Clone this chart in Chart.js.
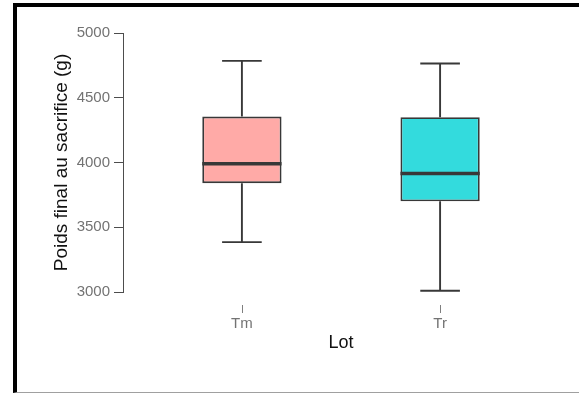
<!DOCTYPE html>
<html>
<head>
<meta charset="utf-8">
<script src="https://cdn.jsdelivr.net/npm/chart.js@4"></script>
<style>
  html, body { margin: 0; padding: 0; background: #fff; }
  #wrap { position: relative; width: 579px; height: 394px; overflow: hidden; }
  #frame {
    position: absolute; left: 13px; top: 3px; width: 600px; height: 385px;
    border-left: 4px solid #000; border-top: 4px solid #000; border-bottom: 1px solid #a0a0a0;
    pointer-events: none;
  }
</style>
</head>
<body>
<div id="wrap">
  <canvas id="box" width="579" height="394"></canvas>
  <div id="frame"></div>
</div>
<script>
// box plot summary per lot
const lots = ["Tm", "Tr"];
const whiskerLow = [3385, 3010];
const q1 = [3840, 3700];
const medians = [3990, 3915];
const q3 = [4355, 4350];
const whiskerHigh = [4785, 4765];
const yTicks = [3000, 3500, 4000, 4500, 5000];

const STROKE = "#383838";

/** whiskers, caps, medians and detached x tick marks, drawn through the scales */
const boxExtras = {
  id: "boxExtras",
  afterDatasetsDraw(chart) {
    const { ctx, scales: { x, y } } = chart;
    const meta = chart.getDatasetMeta(0);
    ctx.save();
    lots.forEach((lot, i) => {
      const bar = meta.data[i];
      const cx = x.getPixelForValue(i + 1);
      const half = bar.width / 2;
      const cap = half / 2;
      ctx.strokeStyle = STROKE;
      ctx.lineWidth = 1.9;
      ctx.beginPath();
      ctx.moveTo(cx, y.getPixelForValue(whiskerHigh[i]));
      ctx.lineTo(cx, y.getPixelForValue(q3[i]));
      ctx.moveTo(cx, y.getPixelForValue(q1[i]));
      ctx.lineTo(cx, y.getPixelForValue(whiskerLow[i]));
      ctx.moveTo(cx - cap, y.getPixelForValue(whiskerHigh[i]));
      ctx.lineTo(cx + cap, y.getPixelForValue(whiskerHigh[i]));
      ctx.moveTo(cx - cap, y.getPixelForValue(whiskerLow[i]));
      ctx.lineTo(cx + cap, y.getPixelForValue(whiskerLow[i]));
      ctx.stroke();
      // median
      ctx.lineWidth = 3.5;
      ctx.beginPath();
      ctx.moveTo(cx - half, y.getPixelForValue(medians[i]));
      ctx.lineTo(cx + half, y.getPixelForValue(medians[i]));
      ctx.stroke();
      // x tick mark, offset below the plot
      ctx.strokeStyle = "#7f7f7f";
      ctx.lineWidth = 1;
      ctx.beginPath();
      ctx.moveTo(Math.round(cx) + 0.5, y.bottom + 13);
      ctx.lineTo(Math.round(cx) + 0.5, y.bottom + 21);
      ctx.stroke();
    });
    ctx.restore();
  },
};

new Chart(document.getElementById("box"), {
  type: "bar",
  data: {
    datasets: [{
      data: lots.map((lot, i) => ({ x: i + 1, y: [q1[i], q3[i]] })),
      backgroundColor: ["#ffaaa7", "#33dbdd"],
      borderColor: STROKE,
      borderWidth: 1.9,
      borderSkipped: false,
      categoryPercentage: 1,
      barPercentage: 0.4,
    }],
  },
  options: {
    responsive: false,
    animation: false,
    layout: { padding: { left: 0, top: 33, right: 20, bottom: 0 } },
    plugins: { legend: { display: false }, tooltip: { enabled: false } },
    scales: {
      x: {
        type: "linear",
        offset: false,
        min: 0.4,
        max: 2.6,
        afterBuildTicks: s => { s.ticks = lots.map((l, i) => ({ value: i + 1 })); },
        afterFit: s => { s.height = 102; },
        ticks: {
          color: "#737373",
          font: { family: "Liberation Sans", size: 15 },
          padding: 23,
          maxRotation: 0,
          callback: v => lots[v - 1],
        },
        grid: { display: false, drawTicks: false, offset: false },
        border: { display: false },
        title: {
          display: true,
          text: "Lot",
          color: "#111",
          font: { family: "Liberation Sans", size: 18 },
          padding: { top: 0, bottom: 40 },
        },
      },
      y: {
        min: 3000,
        max: 5000,
        afterBuildTicks: s => { s.ticks = yTicks.map(v => ({ value: v })); },
        afterFit: s => { s.width = 123; },
        ticks: {
          color: "#737373",
          font: { family: "Liberation Sans", size: 15 },
          padding: 4,
          callback: v => String(v),
        },
        grid: { drawOnChartArea: false, drawTicks: true, tickLength: 9, color: "#4d4d4d" },
        border: { color: "#4d4d4d", width: 1 },
        title: {
          display: true,
          text: "Poids final au sacrifice (g)",
          color: "#111",
          font: { family: "Liberation Sans", size: 19 },
          padding: { top: 50, bottom: 0 },
        },
      },
    },
  },
  plugins: [boxExtras],
});
</script>
</body>
</html>
